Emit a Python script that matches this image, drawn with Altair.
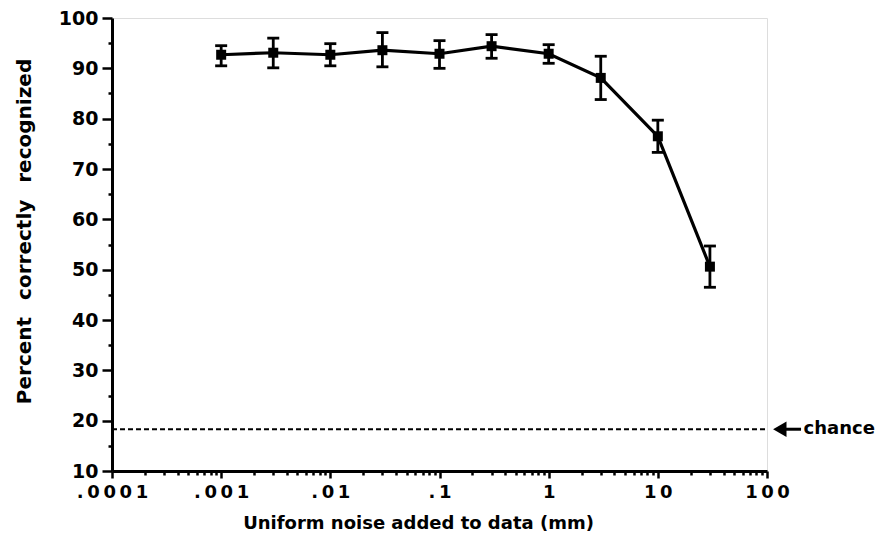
import altair as alt
import pandas as pd

# ---- data ----
noise = [0.001, 0.003, 0.01, 0.03, 0.1, 0.3, 1, 3, 10, 30]
pct = [92.7, 93.1, 92.7, 93.6, 92.9, 94.4, 92.9, 88.1, 76.5, 50.6]
err_lo = [90.5, 90.1, 90.5, 90.3, 90.0, 92.0, 91.0, 83.8, 73.3, 46.5]
err_hi = [94.5, 96.0, 94.9, 97.1, 95.5, 96.7, 94.7, 92.4, 79.7, 54.7]

chance_level = 18.3
chance_from = 0.0001
chance_to = 100

x_decade_labels = [".0001", ".001", ".01", ".1", "1", "10", "100"]
y_ticks = list(range(10, 101, 5))

# annotation ("<- chance") anchor positions in data space (beyond the x domain)
arrow_tip_x = 131
arrow_tail_x = 205
label_x = 216
label_text = "chance"

FONT = "DejaVu Sans"
TS = "\u2009"

x_tick_values = [float(f"{k}e{d}") for d in range(-4, 2) for k in range(1, 10)] + [100.0]
x_labels_spaced = [TS.join(list(s)) for s in x_decade_labels]
lab_arr = "[" + ",".join("'" + s + "'" for s in x_labels_spaced) + "]"
major_test = "abs(log(datum.value)/LN10 - round(log(datum.value)/LN10)) < 0.001"

x_axis = alt.Axis(
    values=x_tick_values,
    labelExpr=f"{major_test} ? {lab_arr}[round(log(datum.value)/LN10)+4] : ''",
    tickSize={"condition": {"test": major_test, "value": 7}, "value": 4},
    tickWidth=2.5,
    tickColor="black",
    domainColor="black",
    domainWidth=3,
    labelFont=FONT,
    labelFontWeight="bold",
    labelFontSize=18,
    labelColor="black",
    labelPadding=5,
    labelFlush=False,
    labelOverlap=False,
    labelBound=False,
    grid=False,
    title="Uniform noise added to data (mm)",
    titleFont=FONT,
    titleFontWeight="bold",
    titleFontSize=18,
    titleColor="black",
    titleBaseline="alphabetic",
    titleX=306,
    titleY=57,
)

y_axis = alt.Axis(
    values=y_ticks,
    labelExpr="datum.value % 10 == 0 ? datum.label : ''",
    tickSize={"condition": {"test": "datum.value % 10 == 0", "value": 10}, "value": 4},
    tickWidth=2.5,
    tickColor="black",
    domainColor="black",
    domainWidth=3,
    labelFont=FONT,
    labelFontWeight="bold",
    labelFontSize=19,
    labelColor="black",
    labelPadding=4,
    labelOverlap=False,
    labelBound=False,
    grid=False,
    title="Percent\u2002 correctly\u2002 recognized",
    titleFont=FONT,
    titleFontWeight="bold",
    titleFontSize=20,
    titleColor="black",
    titleBaseline="middle",
    titleX=-88,
    titleY=213,
)

xscale = alt.Scale(type="log", domain=[0.0001, 100])
yscale = alt.Scale(domain=[10, 100])


def X(field="noise"):
    return alt.X(f"{field}:Q", scale=xscale, axis=x_axis)


def Y(field="pct"):
    return alt.Y(f"{field}:Q", scale=yscale, axis=y_axis)


df = pd.DataFrame({"noise": noise, "pct": pct, "lo": err_lo, "hi": err_hi})
df_chance = pd.DataFrame({"noise": [chance_from], "noise2": [chance_to], "pct": [chance_level]})
df_arrow = pd.DataFrame({"noise": [arrow_tip_x], "noise2": [arrow_tail_x], "pct": [chance_level]})
df_label = pd.DataFrame({"noise": [label_x], "pct": [chance_level], "t": [label_text]})

chance = alt.Chart(df_chance).mark_rule(color="black", strokeWidth=2, strokeDash=[5, 3]).encode(
    x=X(), x2="noise2:Q", y=Y()
)
arrow_line = alt.Chart(df_arrow).mark_rule(color="black", strokeWidth=3).encode(
    x=X(), x2="noise2:Q", y=Y()
)
arrow_head = alt.Chart(df_arrow).mark_point(
    shape="triangle-left", filled=True, color="black", opacity=1, size=240
).encode(x=X(), y=Y())
label = alt.Chart(df_label).mark_text(
    align="left", baseline="middle", font=FONT, fontWeight="bold", fontSize=18, color="black"
).encode(x=X(), y=Y(), text="t:N")

bars = alt.Chart(df).mark_rule(color="black", strokeWidth=2.8).encode(x=X(), y=Y("lo"), y2="hi:Q")
cap_lo = alt.Chart(df).mark_tick(orient="horizontal", color="black", size=12, thickness=2.8, opacity=1).encode(
    x=X(), y=Y("lo")
)
cap_hi = alt.Chart(df).mark_tick(orient="horizontal", color="black", size=12, thickness=2.8, opacity=1).encode(
    x=X(), y=Y("hi")
)
line = alt.Chart(df).mark_line(color="black", strokeWidth=3.2).encode(x=X(), y=Y())
pts = alt.Chart(df).mark_point(shape="square", filled=True, color="black", opacity=1, size=100).encode(
    x=X(), y=Y()
)

chart = (
    alt.layer(chance, bars, cap_lo, cap_hi, line, pts, arrow_line, arrow_head, label)
    .properties(
        width=655,
        height=453,
        autosize=alt.AutoSizeParams(type="none"),
        padding={"left": 104, "top": 10, "right": 110, "bottom": 63},
    )
    .configure_view(strokeWidth=0, stroke="transparent")
    .configure(background="white")
)

chart.save("out.html", embed_options={"renderer": "svg", "actions": False})
